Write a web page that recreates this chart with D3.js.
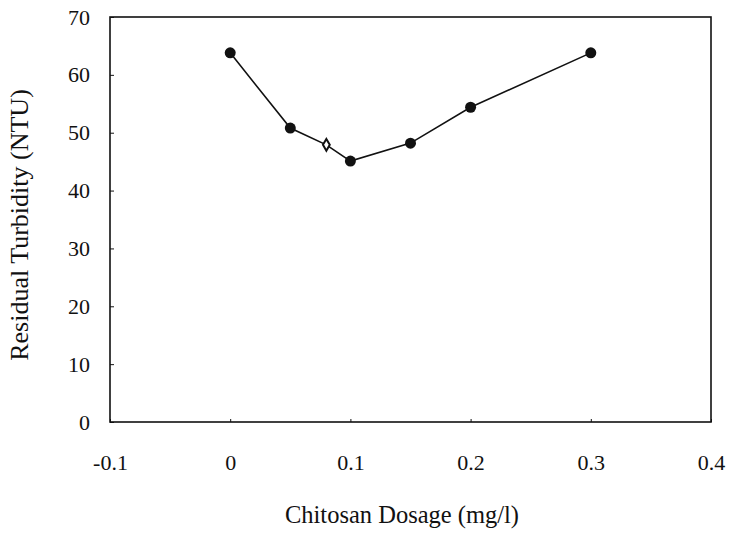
<!DOCTYPE html>
<html>
<head>
<meta charset="utf-8">
<script src="https://cdn.jsdelivr.net/npm/d3@7"></script>
<style>
  body { margin: 0; background: #fff; }
  text { font-family: "Liberation Serif", "Times New Roman", serif; fill: #111; }
</style>
</head>
<body>
<div id="wrapper"></div>
<script>
// data
const dosage = [0, 0.05, 0.08, 0.1, 0.15, 0.2, 0.3]
const turbidity = [63.8, 50.8, 47.9, 45.1, 48.2, 54.4, 63.8]
const markerKind = ["dot", "dot", "open", "dot", "dot", "dot", "dot"]
const xTicks = [-0.1, 0, 0.1, 0.2, 0.3, 0.4]
const yTicks = [0, 10, 20, 30, 40, 50, 60, 70]
const xTickLabels = ["-0.1", "0", "0.1", "0.2", "0.3", "0.4"]

function drawChart() {
  const dataset = dosage.map((d, i) => ({ x: d, y: turbidity[i], kind: markerKind[i] }))

  let dimensions = {
    width: 738,
    height: 534,
    margin: { top: 17, right: 27, bottom: 112, left: 110 },
  }
  dimensions.boundedWidth = dimensions.width - dimensions.margin.left - dimensions.margin.right
  dimensions.boundedHeight = dimensions.height - dimensions.margin.top - dimensions.margin.bottom

  const wrapper = d3.select("#wrapper")
    .append("svg")
      .attr("width", dimensions.width)
      .attr("height", dimensions.height)

  const bounds = wrapper.append("g")
      .attr("transform", `translate(${dimensions.margin.left},${dimensions.margin.top})`)

  // scales
  const xScale = d3.scaleLinear()
    .domain([-0.1, 0.4])
    .range([0, dimensions.boundedWidth])

  const yScale = d3.scaleLinear()
    .domain([0, 70])
    .range([dimensions.boundedHeight, 0])

  // frame
  bounds.append("rect")
      .attr("width", dimensions.boundedWidth)
      .attr("height", dimensions.boundedHeight)
      .attr("fill", "none")
      .attr("stroke", "#111")
      .attr("stroke-width", 1.6)

  // axes with small inward ticks
  const yAxis = bounds.append("g")
    .call(d3.axisLeft(yScale)
      .tickValues(yTicks)
      .tickSize(-4)
      .tickPadding(20)
      .tickFormat(d3.format("d")))
  yAxis.select(".domain").remove()
  yAxis.selectAll("line").attr("stroke", "#111")
  yAxis.selectAll("text")
      .attr("font-size", 22)
      .attr("font-family", "Liberation Serif")

  const xAxis = bounds.append("g")
      .attr("transform", `translate(0,${dimensions.boundedHeight})`)
    .call(d3.axisBottom(xScale)
      .tickValues(xTicks)
      .tickSize(-3)
      .tickPadding(32)
      .tickFormat((d, i) => xTickLabels[i]))
  xAxis.select(".domain").remove()
  xAxis.selectAll("line").attr("stroke", "#111")
  xAxis.selectAll("text")
      .attr("font-size", 22)
      .attr("font-family", "Liberation Serif")

  // line
  const lineGenerator = d3.line()
    .x(d => xScale(d.x))
    .y(d => yScale(d.y))

  bounds.append("path")
      .attr("d", lineGenerator(dataset))
      .attr("fill", "none")
      .attr("stroke", "#111")
      .attr("stroke-width", 1.6)

  // markers
  bounds.selectAll(".dot")
    .data(dataset.filter(d => d.kind == "dot"))
    .join("circle")
      .attr("class", "dot")
      .attr("cx", d => xScale(d.x))
      .attr("cy", d => yScale(d.y))
      .attr("r", 5.5)
      .attr("fill", "#111")

  bounds.selectAll(".open")
    .data(dataset.filter(d => d.kind == "open"))
    .join("path")
      .attr("class", "open")
      .attr("transform", d => `translate(${xScale(d.x)},${yScale(d.y)})`)
      .attr("d", d3.symbol(d3.symbolDiamond, 40))
      .attr("fill", "#fff")
      .attr("stroke", "#111")
      .attr("stroke-width", 2)

  // axis titles
  wrapper.append("text")
      .attr("x", 402)
      .attr("y", 523)
      .attr("text-anchor", "middle")
      .attr("font-size", 24.5)
      .text("Chitosan Dosage (mg/l)")

  wrapper.append("text")
      .attr("transform", "translate(28,225) rotate(-90)")
      .attr("text-anchor", "middle")
      .attr("font-size", 26)
      .text("Residual Turbidity (NTU)")
}
drawChart()
</script>
</body>
</html>
